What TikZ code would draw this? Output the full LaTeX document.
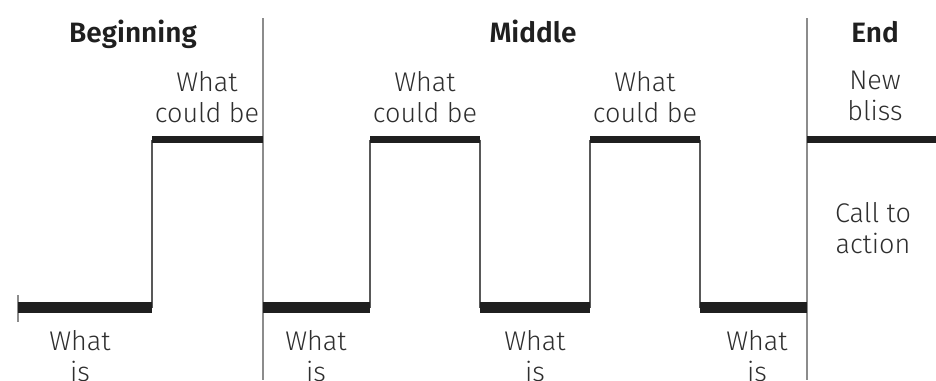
\documentclass[tikz,border=0pt]{standalone}
\usepackage{fontspec}
\setmainfont{Fira Sans Light}[BoldFont=Fira Sans SemiBold]
\begin{document}
\begin{tikzpicture}[x=1pt,y=-1pt,
  lowseg/.style={line width=11.5pt,draw=black!88},
  highseg/.style={line width=7pt,draw=black!88},
  riser/.style={line width=1.5pt,draw=black!65},
  divider/.style={line width=2pt,draw=black!45},
  head/.style={font=\bfseries\fontsize{28}{32}\selectfont,text=black!88,inner sep=0pt,anchor=base},
  lbl/.style={font=\fontsize{27}{31}\selectfont,text=black!82,inner sep=0pt,align=center,anchor=north}]
\useasboundingbox (0,0) rectangle (936,380);
% coordinates
\coordinate (t0) at (18,307.5);
\coordinate (a1) at (152,307.5); \coordinate (b1) at (152,139.5);
\coordinate (c1) at (263,139.5); \coordinate (d1) at (263,307.5);
\coordinate (a2) at (370,307.5); \coordinate (b2) at (370,139.5);
\coordinate (c2) at (480,139.5); \coordinate (d2) at (480,307.5);
\coordinate (a3) at (590,307.5); \coordinate (b3) at (590,139.5);
\coordinate (c3) at (700,139.5); \coordinate (d3) at (700,307.5);
\coordinate (e4) at (807,139.5); \coordinate (d4) at (807,307.5);
\coordinate (f4) at (936,139.5);
\coordinate (v1t) at (263,18); \coordinate (v1b) at (263,380);
\coordinate (v2t) at (807,18); \coordinate (v2b) at (807,380);
\coordinate (tk1) at (18,295); \coordinate (tk2) at (18,322);
% risers
\draw[riser] (a1) -- (b1);
\draw[riser] (a2) -- (b2);
\draw[riser] (c2) -- (d2);
\draw[riser] (a3) -- (b3);
\draw[riser] (c3) -- (d3);
% dividers
\draw[divider] (v1t) -- (v1b);
\draw[divider] (v2t) -- (v2b);
\draw[divider] (tk1) -- (tk2);
% segments
\draw[lowseg] (t0) -- (a1);
\draw[highseg] (b1) -- (c1);
\draw[lowseg] (d1) -- (a2);
\draw[highseg] (b2) -- (c2);
\draw[lowseg] (d2) -- (a3);
\draw[highseg] (b3) -- (c3);
\draw[lowseg] (d3) -- (d4);
\draw[highseg] (e4) -- (f4);
% headings
\node[head] (hb) at (133,42) {Beginning};
\node[head] (hm) at (533,42) {Middle};
\node[head] (he) at (875,42) {End};
% labels
\node[lbl] (w1) at (207,71) {What\\could be};
\node[lbl] (w2) at (425,71) {What\\could be};
\node[lbl] (w3) at (645,71) {What\\could be};
\node[lbl] (nb) at (875,71) {New\\bliss};
\node[lbl] (ca) at (873,202) {Call to\\action};
\node[lbl] (i1) at (80,330) {What\\is};
\node[lbl] (i2) at (316,330) {What\\is};
\node[lbl] (i3) at (535,330) {What\\is};
\node[lbl] (i4) at (757,330) {What\\is};
\end{tikzpicture}
\end{document}
